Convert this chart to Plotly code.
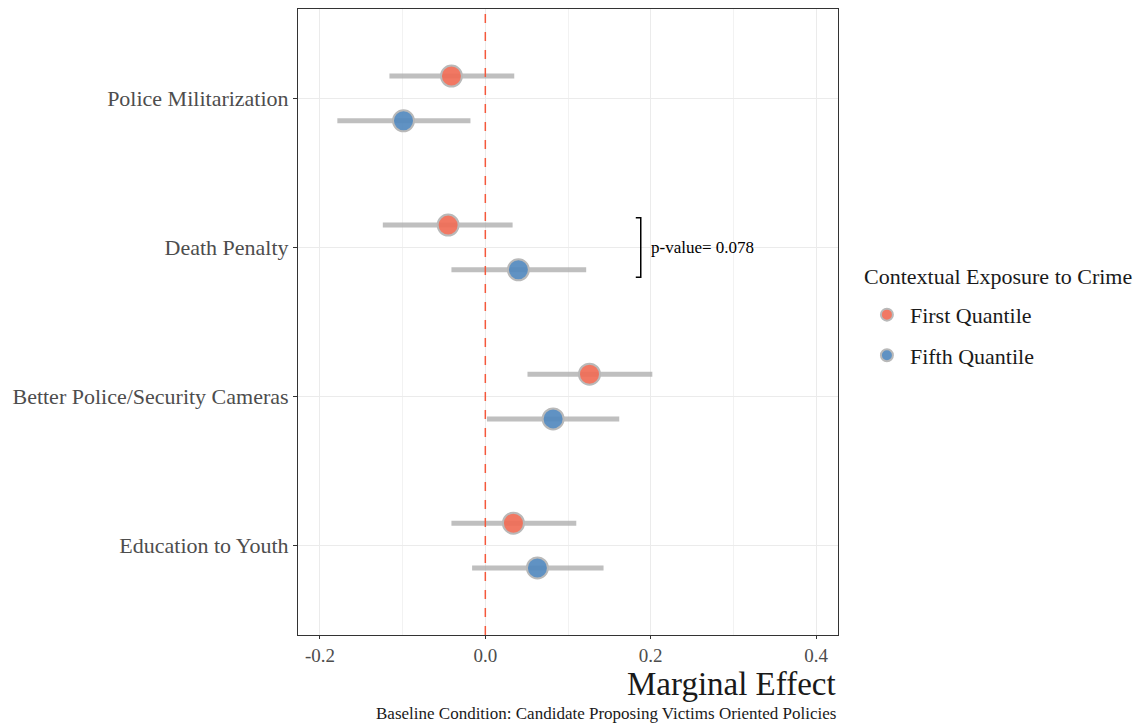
import plotly.graph_objects as go

categories = ["Education to Youth", "Better Police/Security Cameras", "Death Penalty", "Police Militarization"]
series_names = ["First Quantile", "Fifth Quantile"]
first_est = [0.034, 0.126, -0.045, -0.041]
first_lo = [-0.041, 0.051, -0.124, -0.116]
first_hi = [0.110, 0.202, 0.033, 0.035]
fifth_est = [0.063, 0.082, 0.040, -0.099]
fifth_lo = [-0.016, 0.002, -0.041, -0.179]
fifth_hi = [0.143, 0.162, 0.122, -0.018]
x_ticks = [-0.2, 0.0, 0.2, 0.4]
x_tick_labels = ["-0.2", "0.0", "0.2", "0.4"]
p_label = "p-value= 0.078"
legend_title = "Contextual Exposure to Crime"

FONT = "Liberation Serif"
colors = ["rgba(240,108,86,0.92)", "rgba(82,137,190,0.92)"]
offsets = [0.15, -0.15]

fig = go.Figure()
for name, est, lo, hi, col, off in [
    (series_names[0], first_est, first_lo, first_hi, colors[0], offsets[0]),
    (series_names[1], fifth_est, fifth_lo, fifth_hi, colors[1], offsets[1]),
]:
    ys = [i + 1 + off for i in range(len(categories))]
    fig.add_trace(go.Scatter(
        x=est, y=ys, mode="markers", name=name, legendgroup=name,
        marker=dict(size=21, color=col, line=dict(color="rgb(185,185,185)", width=2)),
        error_x=dict(type="data", symmetric=False,
                     array=[h - e for h, e in zip(hi, est)],
                     arrayminus=[e - l for e, l in zip(est, lo)],
                     color="rgba(170,170,170,0.75)", thickness=5, width=0),
    ))

# zero reference line (drawn over the interval bars)
fig.add_trace(go.Scatter(x=[0, 0], y=[0.4, 4.6], mode="lines",
                         line=dict(color="#F4583C", width=1.5, dash="dash"),
                         showlegend=False, hoverinfo="skip"))

# bracket for p-value (Death Penalty)
dp = categories.index("Death Penalty") + 1
bx = 0.188
fig.add_trace(go.Scatter(
    x=[bx - 0.006, bx, bx, bx - 0.006], y=[dp + 0.2, dp + 0.2, dp - 0.2, dp - 0.2],
    mode="lines", line=dict(color="black", width=1.5), showlegend=False, hoverinfo="skip"))
fig.add_annotation(x=bx + 0.01, y=dp, text=p_label, showarrow=False, xanchor="left",
                   yanchor="middle", font=dict(family=FONT, size=17, color="black"))

fig.add_annotation(x=1, y=-0.046, xref="paper", yref="paper", text="Marginal Effect",
                   showarrow=False, xanchor="right", yanchor="top",
                   font=dict(family=FONT, size=33, color="#1a1a1a"))
fig.add_annotation(x=1, y=-0.107, xref="paper", yref="paper",
                   text="Baseline Condition: Candidate Proposing Victims Oriented Policies",
                   showarrow=False, xanchor="right", yanchor="top",
                   font=dict(family=FONT, size=17, color="#1a1a1a"))
fig.add_annotation(x=1.044, y=0.572, xref="paper", yref="paper", text=legend_title,
                   showarrow=False, xanchor="left", yanchor="middle",
                   font=dict(family=FONT, size=22, color="#1a1a1a"))

# the page body adds an 8px offset, so the figure is sized to fit the window
fig.update_layout(
    width=1134, height=715,
    margin=dict(l=290, r=304, t=1, b=88),
    paper_bgcolor="white", plot_bgcolor="white",
    font=dict(family=FONT, color="#4d4d4d"),
    legend=dict(x=1.048, y=0.545, xanchor="left", yanchor="top",
                font=dict(family=FONT, size=22, color="#1a1a1a"), itemsizing="constant",
                itemwidth=36, tracegroupgap=9),
    showlegend=True,
)
fig.update_xaxes(range=[-0.2266, 0.4266], tickvals=x_ticks, ticktext=x_tick_labels,
                 tickfont=dict(family=FONT, size=19, color="#4d4d4d"),
                 showgrid=True, gridcolor="#EBEBEB", gridwidth=1.2,
                 minor=dict(dtick=0.1, tick0=-0.1, showgrid=True, gridcolor="#F2F2F2", gridwidth=0.8),
                 zeroline=False, showline=True, linecolor="#333333", linewidth=1, mirror=True,
                 ticks="outside", ticklen=3, tickcolor="#333333")
fig.update_yaxes(range=[0.4, 4.6], tickvals=[1, 2, 3, 4], ticktext=categories,
                 tickfont=dict(family=FONT, size=22, color="#4d4d4d"),
                 showgrid=True, gridcolor="#EBEBEB", gridwidth=1.2, zeroline=False,
                 showline=True, linecolor="#333333", linewidth=1, mirror=True,
                 ticks="outside", ticklen=4, tickcolor="#333333")

fig.write_html("out.html")
